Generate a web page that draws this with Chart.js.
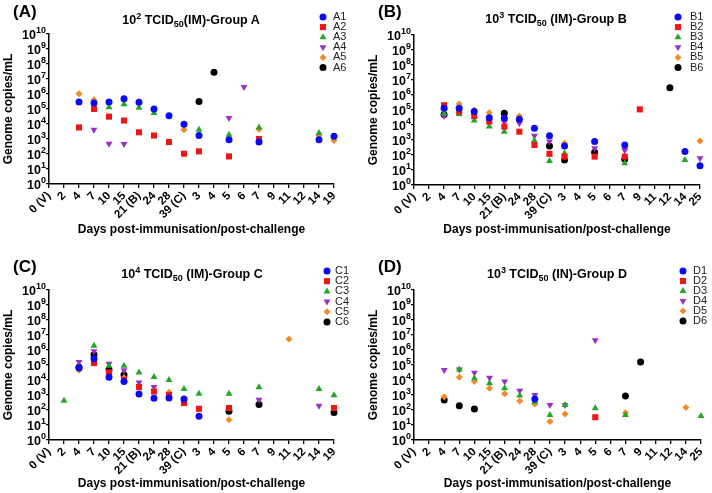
<!DOCTYPE html>
<html>
<head>
<meta charset="utf-8">
<script src="https://cdn.jsdelivr.net/npm/chart.js@4.4.1/dist/chart.umd.min.js"></script>
<style>
  body { margin: 0; background: #fff; width: 712px; height: 493px; position: relative; overflow: hidden;
         font-family: "Liberation Sans", Arial, sans-serif; color: #000; }
  .panel { position: absolute; width: 356px; }
  .panel canvas { position: absolute; left: 0; top: 0; }
  .tag { position: absolute; font-weight: bold; font-size: 17px; line-height: 1; }
  .ttl { position: absolute; font-weight: bold; font-size: 12.5px; line-height: 1; white-space: nowrap;
         transform: translate(-50%, -50%); }
  .ttl sup, .ttl sub { font-size: 9px; vertical-align: 0; position: relative; }
  .ttl sup { top: -0.6em; }
  .ttl sub { top: 0.35em; }
</style>
</head>
<body>

<div class="panel" style="left:0;top:0;height:246px">
  <canvas id="cA" width="356" height="246"></canvas>
  <div class="tag" style="left:13px;top:3px">(A)</div>
  <div class="ttl" style="left:191px;top:20px">10<sup>2</sup> TCID<sub>50</sub>(IM)-Group A</div>
</div>
<div class="panel" style="left:356px;top:0;height:246px">
  <canvas id="cB" width="356" height="246"></canvas>
  <div class="tag" style="left:22px;top:3px">(B)</div>
  <div class="ttl" style="left:200px;top:19px">10<sup>3</sup> TCID<sub>50</sub> (IM)-Group B</div>
</div>
<div class="panel" style="left:0;top:246px;height:247px">
  <canvas id="cC" width="356" height="247"></canvas>
  <div class="tag" style="left:13px;top:12px">(C)</div>
  <div class="ttl" style="left:192px;top:28px">10<sup>4</sup> TCID<sub>50</sub> (IM)-Group C</div>
</div>
<div class="panel" style="left:356px;top:246px;height:247px">
  <canvas id="cD" width="356" height="247"></canvas>
  <div class="tag" style="left:22px;top:12px">(D)</div>
  <div class="ttl" style="left:201px;top:28px">10<sup>3</sup> TCID<sub>50</sub> (IN)-Group D</div>
</div>

<script>
// day labels (V = vaccination, B = boost, C = challenge)
const daysAC = ['0 (V)', '2', '4', '7', '10', '15', '21 (B)', '24', '28', '39 (C)',
                '3', '4', '5', '6', '7', '9', '11', '12', '14', '19'];
const daysBD = ['0 (V)', '2', '4', '7', '10', '15', '21 (B)', '24', '28', '39 (C)',
                '3', '4', '5', '6', '7', '9', '11', '12', '14', '25'];

// group A - genome copies/mL
const A1 = [null, null, 2.9e5, 2.5e5, 2.9e5, 4.9e5, 2.8e5, 1e5, 3.5e4, 9.8e3, 1.7e3, null, 890, null, 630, null, null, null, 890, 1.5e3];
const A2 = [null, null, 5.9e3, 1e5, 3.1e4, 1.7e4, 2.8e3, 1.7e3, 630, 105, 150, null, 69, null, 1e3, null, null, null, null, null];
const A3 = [null, null, null, null, 1.3e5, 2.1e5, 1.2e5, 5.4e4, null, null, 4.2e3, null, 1.9e3, null, 5.9e3, null, null, null, 2.5e3, null];
const A4 = [null, null, null, 4.2e3, 490, 460, null, null, null, null, null, null, 2.5e4, 2.9e6, null, null, null, null, null, null];
const A5 = [null, null, 1.05e6, 4.2e5, null, null, null, null, null, 4.2e3, null, null, null, null, 4.5e3, null, null, null, 1.7e3, 780];
const A6 = [null, null, null, null, null, null, null, null, null, null, 3.2e5, 2.8e7, null, null, null, null, null, null, null, null];

// group B
const B1 = [null, null, 1.3e5, 1.3e5, 7.8e4, 3.1e4, 2.8e4, 2.4e4, 6e3, 1.9e3, 400, null, 780, null, 470, null, null, null, 170, 19];
const B2 = [null, null, 2.1e5, 7.8e4, 4e4, 1.7e4, 7.8e3, 3.6e3, 470, 120, 78, null, 78, null, 78, 1.1e5, null, null, null, null];
const B3 = [null, null, 6e4, 5.4e4, 2e4, 7.8e3, 3.6e3, null, 900, 40, 130, null, null, null, 28, null, null, null, 47, null];
const B4 = [null, null, 4e4, null, null, null, 1.6e4, 1.3e4, 1.9e3, 780, null, null, 280, null, 210, null, null, null, null, 60];
const B5 = [null, null, null, 2.5e5, 1e5, 6.6e4, null, 4e4, null, null, 600, null, null, null, 250, null, null, null, null, 850];
const B6 = [null, null, 5e4, null, null, null, 6e4, null, null, 400, 47, null, 150, null, 52, null, null, 3e6, null, null];

// group C
const C1 = [null, null, 6.3e4, 2.6e5, 1.5e4, 7.9e3, 1.15e3, 610, 630, 540, 38, null, null, null, null, null, null, null, null, null];
const C2 = [null, null, null, 1.35e5, 3.2e4, 1e4, 3.4e3, 1.7e3, 1e3, 290, 120, null, 135, null, null, null, null, null, null, 135];
const C3 = [null, 420, null, 1.9e6, 9e4, 9e4, 3.2e4, 1.6e4, 1e4, 2.5e3, 1.2e3, null, 1.2e3, null, 3.3e3, null, null, null, 2.5e3, 950];
const C4 = [null, null, 1.6e5, 8.2e5, 1.2e5, 4.4e4, 6.9e3, 3.4e3, null, null, null, null, null, null, 490, null, null, null, 195, null];
const C5 = [null, null, 4.4e4, null, 2.6e4, 1.4e4, null, null, 1.5e3, null, null, null, 22, null, null, null, 5.4e6, null, null, null];
const C6 = [null, null, 7e4, 4.9e5, 4.9e4, 2.2e4, null, null, null, null, null, null, 81, null, 230, null, null, null, null, 69];

// group D
const D1 = [null, null, null, null, null, null, null, null, 540, null, null, null, null, null, null, null, null, null, null, null];
const D2 = [null, null, null, null, null, null, null, null, null, null, null, null, 33, null, null, null, null, null, null, null];
const D3 = [null, null, null, 5.1e4, 1.3e4, 6e3, 2.8e3, 920, 360, 46, 215, null, 130, null, 46, null, null, null, null, 40];
const D4 = [null, null, 4.6e4, 5.1e4, 3.1e4, 1.4e4, 7.8e3, 1.9e3, 1e3, 215, 215, null, 4.5e6, null, null, null, null, null, null, null];
const D5 = [null, null, 770, 1.5e4, 7.8e3, 2.8e3, 1.2e3, 400, 250, 17, 54, null, null, null, 66, null, null, null, 145, null];
const D6 = [null, null, 460, 195, 118, null, null, null, null, null, null, null, null, null, 860, 1.6e5, null, null, null, null];

const decades = [0, 1, 2, 3, 4, 5, 6, 7, 8, 9, 10];

const marks = [
  { color: '#0b0bf2', style: 'circle', r: 3.5 },
  { color: '#ee1616', style: 'rect', r: 4.3 },
  { color: '#1fa826', style: 'triangle', r: 4 },
  { color: '#9a2fd0', style: 'triangle', rot: 180, r: 4 },
  { color: '#f28b26', style: 'rectRot', r: 3.5 },
  { color: '#000000', style: 'circle', r: 3.5 }
];

const FONT = '"Liberation Sans", Arial, sans-serif';

// legend drawn beside the plot, top right like the original
const sideLegend = {
  id: 'sideLegend',
  afterDraw(chart, args, opts) {
    const ctx = chart.ctx;
    ctx.save();
    chart.data.datasets.forEach((ds, i) => {
      const y = opts.y0 + i * opts.dy;
      ctx.fillStyle = ds.backgroundColor;
      ctx.strokeStyle = ds.backgroundColor;
      Chart.helpers.drawPoint(ctx, {
        pointStyle: ds.pointStyle, rotation: ds.pointRotation || 0,
        radius: ds.pointRadius, borderWidth: 0
      }, opts.x, y);
      ctx.fillStyle = '#222';
      ctx.font = '11px ' + FONT;
      ctx.textBaseline = 'middle';
      ctx.textAlign = 'left';
      ctx.fillText(ds.label, opts.tx, y);
    });
    ctx.restore();
  }
};

// y tick labels as 10 with a raised exponent
const powerLabels = {
  id: 'powerLabels',
  afterDraw(chart) {
    const s = chart.scales.y;
    const ctx = chart.ctx;
    ctx.save();
    ctx.fillStyle = '#000';
    ctx.textAlign = 'right';
    ctx.textBaseline = 'middle';
    const xr = s.right - 3;
    s.ticks.forEach(t => {
      const y = s.getPixelForValue(t.value);
      const e = String(Math.round(Math.log10(t.value)));
      ctx.font = 'bold 9px ' + FONT;
      const ew = ctx.measureText(e).width;
      ctx.fillText(e, xr, y - 3);
      ctx.font = 'bold 12.5px ' + FONT;
      ctx.fillText('10', xr - ew, y + 2);
    });
    ctx.restore();
  }
};

function makePanel(id, labels, series, names, box) {
  const canvas = document.getElementById(id);
  const W = canvas.width, H = canvas.height;
  const padL = box.padL || 0;
  return new Chart(canvas, {
    type: 'line',
    data: {
      labels: labels,
      datasets: series.map((d, i) => ({
        label: names[i],
        data: d,
        showLine: false,
        clip: false,
        pointStyle: marks[i].style,
        pointRotation: marks[i].rot || 0,
        pointRadius: marks[i].r,
        pointBorderWidth: 0,
        backgroundColor: marks[i].color,
        borderColor: marks[i].color
      }))
    },
    options: {
      responsive: false,
      animation: false,
      devicePixelRatio: 1,
      events: [],
      layout: { padding: { left: padL, top: box.top, right: W - box.right, bottom: 0 } },
      plugins: {
        legend: { display: false },
        tooltip: { enabled: false },
        sideLegend: box.legend
      },
      scales: {
        x: {
          type: 'category',
          offset: false,
          grid: { drawOnChartArea: false, color: '#000', tickLength: 4, lineWidth: 1.3 },
          border: { color: '#000', width: 1.5 },
          ticks: {
            autoSkip: false, minRotation: 45, maxRotation: 45, padding: 1,
            color: '#000', font: { family: FONT, size: 11.5, weight: 'bold' }
          },
          title: {
            display: true, text: 'Days post-immunisation/post-challenge', color: '#000',
            font: { family: FONT, size: 12, weight: 'bold' },
            padding: { top: 0, bottom: H - box.xTitle - 7.2 }
          },
          afterFit: s => { s.height = H - box.bottom; }
        },
        y: {
          type: 'logarithmic',
          min: 1,
          max: 1e10,
          grid: { drawOnChartArea: false, color: '#000', tickLength: 3, lineWidth: 1.3 },
          border: { color: '#000', width: 1.5 },
          afterBuildTicks: s => { s.ticks = decades.map(e => ({ value: Math.pow(10, e) })); },
          ticks: { display: false, autoSkip: false },
          title: {
            display: true, text: 'Genome copies/mL', color: '#000',
            font: { family: FONT, size: 12, weight: 'bold' },
            padding: { top: 1, bottom: 0 }
          },
          afterFit: s => { s.width = box.left - padL; }
        }
      }
    },
    plugins: [sideLegend, powerLabels]
  });
}

makePanel('cA', daysAC, [A1, A2, A3, A4, A5, A6], ['A1', 'A2', 'A3', 'A4', 'A5', 'A6'],
  { left: 49, top: 34, right: 334, bottom: 184, xTitle: 230,
    legend: { x: 323, tx: 333, y0: 17, dy: 10.1 } });
makePanel('cB', daysBD, [B1, B2, B3, B4, B5, B6], ['B1', 'B2', 'B3', 'B4', 'B5', 'B6'],
  { left: 58, padL: 9, top: 35, right: 344, bottom: 185, xTitle: 230,
    legend: { x: 322, tx: 334, y0: 17, dy: 10.1 } });
makePanel('cC', daysAC, [C1, C2, C3, C4, C5, C6], ['C1', 'C2', 'C3', 'C4', 'C5', 'C6'],
  { left: 49, top: 44, right: 334, bottom: 194, xTitle: 238,
    legend: { x: 327, tx: 335, y0: 25, dy: 10.2 } });
makePanel('cD', daysBD, [D1, D2, D3, D4, D5, D6], ['D1', 'D2', 'D3', 'D4', 'D5', 'D6'],
  { left: 58, padL: 9, top: 44, right: 345, bottom: 194, xTitle: 238,
    legend: { x: 327, tx: 337, y0: 25, dy: 10 } });
</script>
</body>
</html>
